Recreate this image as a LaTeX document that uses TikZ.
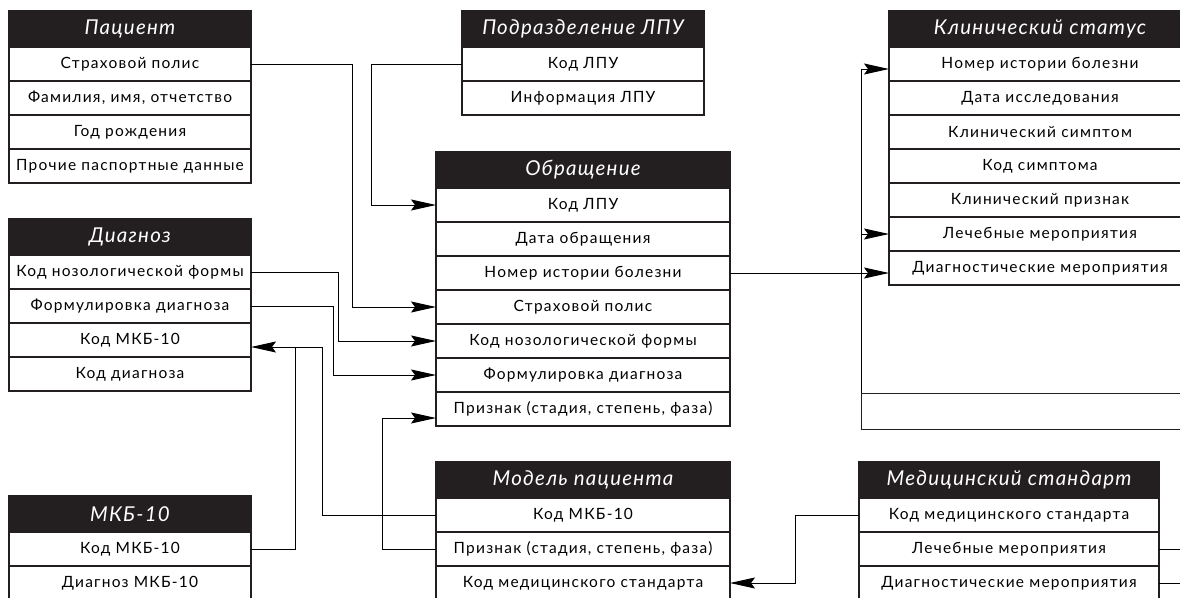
\documentclass[tikz,border=0pt]{standalone}
\usepackage{fontspec}
\setmainfont{Lato}[LetterSpace=8]
\usepackage{tikz}
\usetikzlibrary{positioning,arrows.meta}

\definecolor{hdrblack}{HTML}{231F20}

\tikzset{
  hdr/.style={draw=hdrblack, fill=hdrblack, text=white, line width=2pt,
    minimum height=36pt, inner sep=0pt, outer sep=0pt,
    font=\fontsize{20.5}{20.5}\selectfont\itshape\addfontfeatures{LetterSpace=6}},
  fld/.style={draw=hdrblack, fill=white, line width=2pt,
    minimum height=34pt, inner sep=0pt, outer sep=0pt,
    font=\fontsize{15.5}{15.5}\selectfont},
  link/.style={line width=1pt, -{Stealth[length=25pt,width=11pt,inset=4pt]}},
  wire/.style={line width=1pt}
}

\begin{document}
\begin{tikzpicture}[x=1pt,y=-1pt]
\useasboundingbox (0,0) rectangle (1180,597);

% Пациент
\node [hdr, minimum width=242pt, anchor=north west] (pac) at (9,11) {Пациент};
\node [fld, minimum width=242pt, below=0pt of pac] (pac1) {Страховой полис};
\node [fld, minimum width=242pt, below=0pt of pac1] (pac2) {Фамилия, имя, отчетство};
\node [fld, minimum width=242pt, below=0pt of pac2] (pac3) {Год рождения};
\node [fld, minimum width=242pt, below=0pt of pac3] (pac4) {Прочие паспортные данные};

% Подразделение ЛПУ
\node [hdr, minimum width=242pt, anchor=north west] (lpu) at (462,11) {Подразделение ЛПУ};
\node [fld, minimum width=242pt, below=0pt of lpu] (lpu1) {Код ЛПУ};
\node [fld, minimum width=242pt, below=0pt of lpu1] (lpu2) {Информация ЛПУ};

% Обращение
\node [hdr, minimum width=294pt, anchor=north west] (obr) at (436,152) {Обращение};
\node [fld, minimum width=294pt, below=0pt of obr] (obr1) {Код ЛПУ};
\node [fld, minimum width=294pt, below=0pt of obr1] (obr2) {Дата обращения};
\node [fld, minimum width=294pt, below=0pt of obr2] (obr3) {Номер истории болезни};
\node [fld, minimum width=294pt, below=0pt of obr3] (obr4) {Страховой полис};
\node [fld, minimum width=294pt, below=0pt of obr4] (obr5) {Код нозологической формы};
\node [fld, minimum width=294pt, below=0pt of obr5] (obr6) {Формулировка диагноза};
\node [fld, minimum width=294pt, below=0pt of obr6] (obr7) {Признак (стадия, степень, фаза)};

% Клинический статус
\node [hdr, minimum width=302pt, anchor=north west] (kst) at (889,11) {Клинический статус};
\node [fld, minimum width=302pt, below=0pt of kst] (kst1) {Номер истории болезни};
\node [fld, minimum width=302pt, below=0pt of kst1] (kst2) {Дата исследования};
\node [fld, minimum width=302pt, below=0pt of kst2] (kst3) {Клинический симптом};
\node [fld, minimum width=302pt, below=0pt of kst3] (kst4) {Код симптома};
\node [fld, minimum width=302pt, below=0pt of kst4] (kst5) {Клинический признак};
\node [fld, minimum width=302pt, below=0pt of kst5] (kst6) {Лечебные мероприятия};
\node [fld, minimum width=302pt, below=0pt of kst6] (kst7) {Диагностические мероприятия};
\node [wire, draw=hdrblack, minimum width=340pt, minimum height=36pt, anchor=north west] (ext) at (861,393) {};

% Диагноз
\node [hdr, minimum width=242pt, anchor=north west] (diag) at (9,219) {Диагноз};
\node [fld, minimum width=242pt, below=0pt of diag] (diag1) {Код нозологической формы};
\node [fld, minimum width=242pt, below=0pt of diag1] (diag2) {Формулировка диагноза};
\node [fld, minimum width=242pt, below=0pt of diag2] (diag3) {Код МКБ-10};
\node [fld, minimum width=242pt, below=0pt of diag3] (diag4) {Код диагноза};

% МКБ-10
\node [hdr, minimum width=242pt, anchor=north west] (mkb) at (9,496) {МКБ-10};
\node [fld, minimum width=242pt, below=0pt of mkb] (mkb1) {Код МКБ-10};
\node [fld, minimum width=242pt, below=0pt of mkb1] (mkb2) {Диагноз МКБ-10};

% Модель пациента
\node [hdr, minimum width=294pt, anchor=north west] (mod) at (436,462) {Модель пациента};
\node [fld, minimum width=294pt, below=0pt of mod] (mod1) {Код МКБ-10};
\node [fld, minimum width=294pt, below=0pt of mod1] (mod2) {Признак (стадия, степень, фаза)};
\node [fld, minimum width=294pt, below=0pt of mod2] (mod3) {Код медицинского стандарта};

% Медицинский стандарт
\node [hdr, minimum width=300pt, anchor=north west] (std) at (859,462) {Медицинский стандарт};
\node [fld, minimum width=300pt, below=0pt of std] (std1) {Код медицинского стандарта};
\node [fld, minimum width=300pt, below=0pt of std1] (std2) {Лечебные мероприятия};
\node [fld, minimum width=300pt, below=0pt of std2] (std3) {Диагностические мероприятия};

% links
\draw [link] (pac1.east) -- ++(101,0) |- (obr4.west);
\draw [link] (lpu1.west) -- ++(-91,0) |- (obr1.west);
\draw [link] (diag1.east) -- ++(87,0) |- (obr5.west);
\draw [link] (diag2.east) -- ++(82,0) |- (obr6.west);
\draw [link] (mkb1.east) -- ++(44,0) |- coordinate[pos=0.5] (mj) ([yshift=-7pt]diag3.east);
\draw [wire] (mod1.west) -- ++(-114,0) |- (mj);
\draw [link] (mod2.west) -- ++(-54,0) |- ([yshift=-9pt]obr7.west);
\draw [link] (std1.west) -- ++(-64,0) |- (mod3.east);
\draw [wire] (std2.east) -- ++(40,0);
\draw [wire] (std3.east) -- ++(40,0);

\draw [link] (obr3.east) -- (obr3.east -| kst7.west);
\draw [wire] ([yshift=-5pt]kst1.west -| ext.west) -- (ext.north west);
\draw [link] ([yshift=-5pt]kst1.west -| ext.west) -- ([yshift=-5pt]kst1.west);
\draw [link] (kst6.west -| ext.west) -- (kst6.west);
\end{tikzpicture}
\end{document}
